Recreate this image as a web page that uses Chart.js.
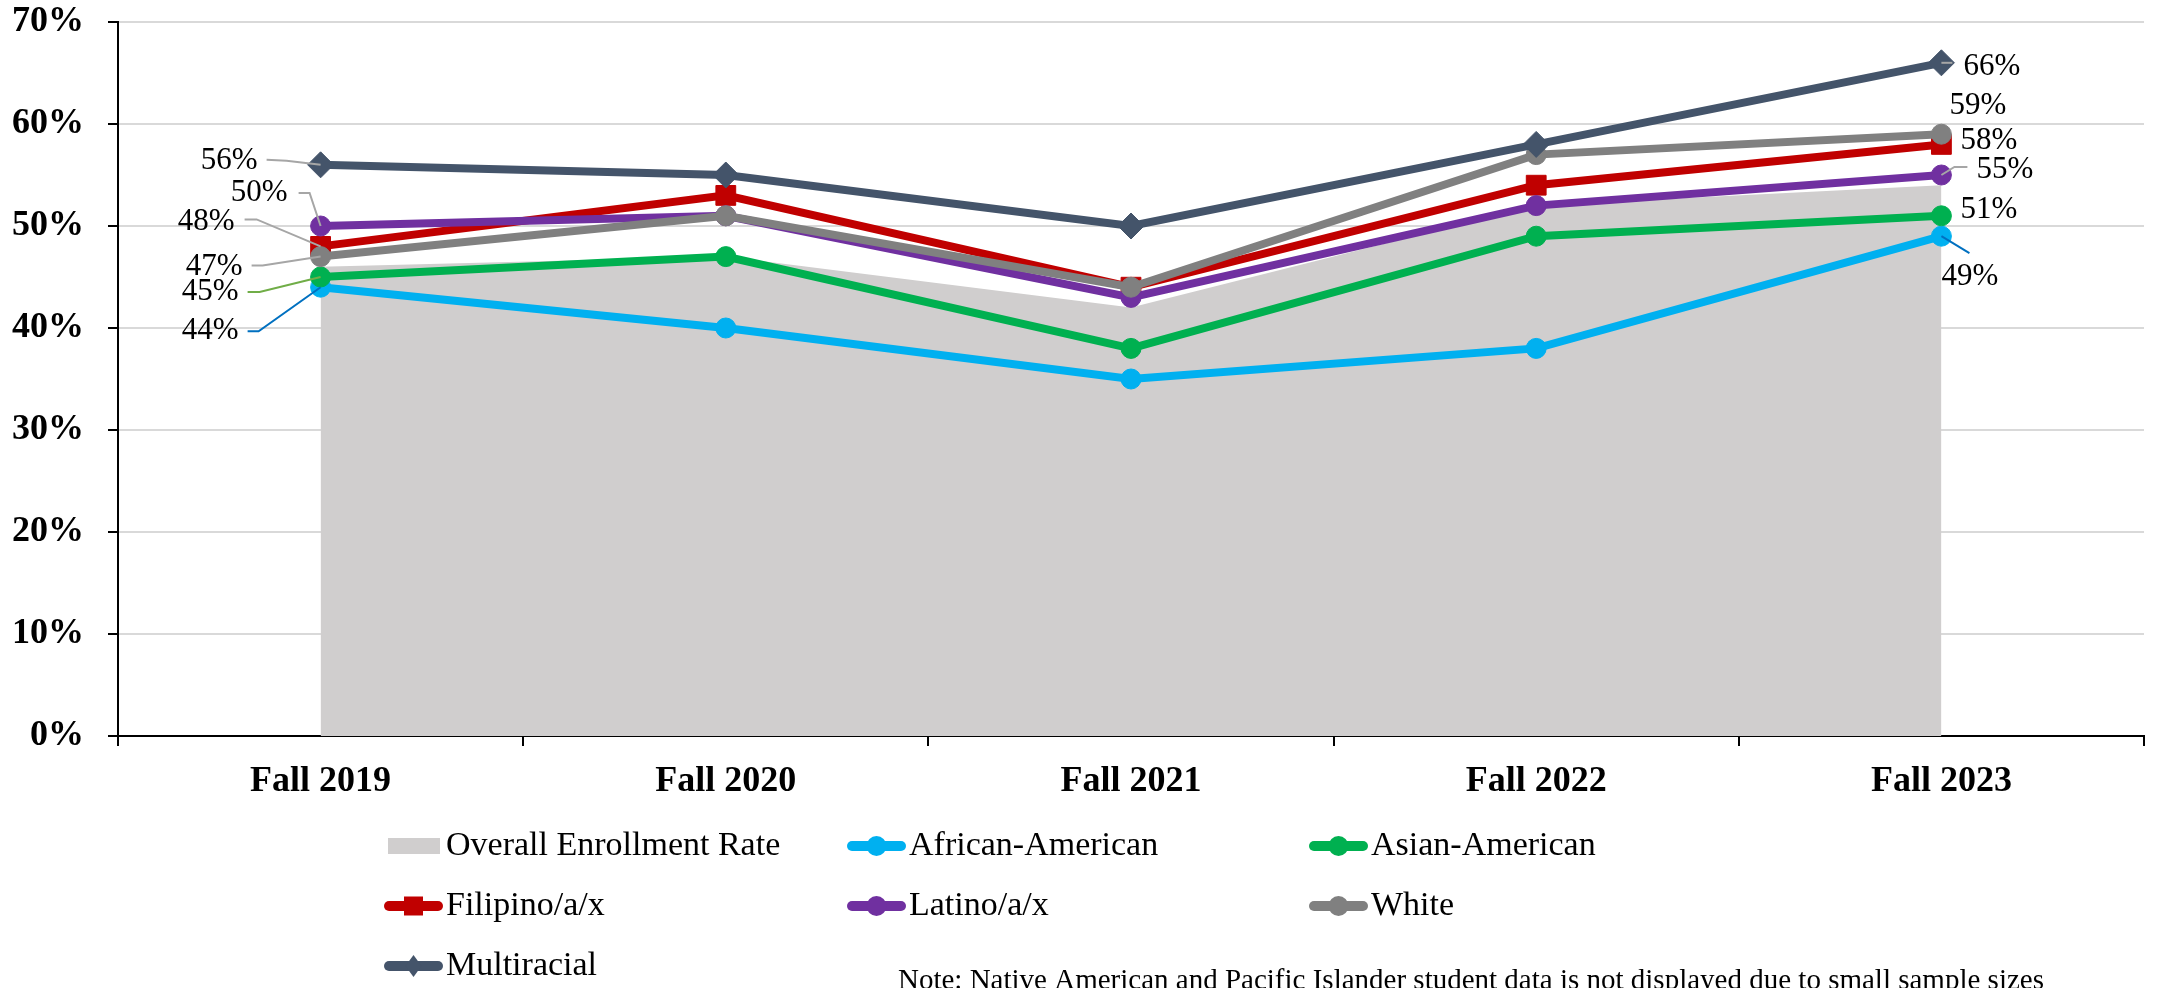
<!DOCTYPE html>
<html lang="en">
<head>
<meta charset="UTF-8">
<title>Enrollment Rate by Race/Ethnicity</title>
<script src="https://cdn.jsdelivr.net/npm/chart.js"></script>
<style>
  html, body { margin: 0; padding: 0; background: #fff; overflow: hidden; }
  #wrap { width: 2159px; height: 988px; }
</style>
</head>
<body>
<div id="wrap"><canvas id="rateChart" width="2159" height="988"></canvas></div>
<script>
// ---- data ----
const years = ['Fall 2019', 'Fall 2020', 'Fall 2021', 'Fall 2022', 'Fall 2023'];
const overallRate = [46, 47, 42, 52, 54];
const africanAmerican = [44, 40, 35, 38, 49];
const asianAmerican = [45, 47, 38, 49, 51];
const filipino = [48, 53, 44, 54, 58];
const latino = [50, 51, 43, 52, 55];
const white = [47, 51, 44, 57, 59];
const multiracial = [56, 55, 50, 58, 66];
const yTickValues = [0, 10, 20, 30, 40, 50, 60, 70];
const noteText = 'Note: Native American and Pacific Islander student data is not displayed due to small sample sizes';

const serif = "'Liberation Serif', 'Times New Roman', serif";

// where the value labels sit, relative to the first / last point of each line
const grayLeader = '#A6A6A6';
const labelSpots = {
  'African-American': [
    { i: 0, dx: -82, dy: 44, align: 'right', leader: [[-73, 44], [-62, 44], [0, 0]], lineColor: '#0070C0' },
    { i: 4, dx: 0, dy: 41, align: 'left', leader: [[0, 0], [28, 17]], lineColor: '#0070C0' }
  ],
  'Asian-American': [
    { i: 0, dx: -82, dy: 15, align: 'right', leader: [[-73, 15], [-61, 15], [0, 0]], lineColor: '#70AD47' },
    { i: 4, dx: 19, dy: -6, align: 'left' }
  ],
  'Filipino/a/x': [
    { i: 0, dx: -86, dy: -25, align: 'right', leader: [[-76, -27], [-64, -27], [0, 0]], lineColor: grayLeader },
    { i: 4, dx: 19, dy: -4, align: 'left' }
  ],
  'Latino/a/x': [
    { i: 0, dx: -33, dy: -33, align: 'right', leader: [[-22, -33], [-11, -33], [0, 0]], lineColor: grayLeader },
    { i: 4, dx: 35, dy: -5, align: 'left', leader: [[0, 0], [13, -8], [26, -8]], lineColor: grayLeader }
  ],
  'White': [
    { i: 0, dx: -78, dy: 10, align: 'right', leader: [[-69, 9], [-58, 9], [0, 0]], lineColor: grayLeader },
    { i: 4, dx: 8, dy: -28, align: 'left' }
  ],
  'Multiracial': [
    { i: 0, dx: -63, dy: -4, align: 'right', leader: [[-54, -5], [-34, -4], [0, 0]], lineColor: grayLeader },
    { i: 4, dx: 22, dy: 4, align: 'left', leader: [[0, 0], [11, 0]], lineColor: grayLeader }
  ]
};

const dataLabels = {
  id: 'dataLabels',
  afterDatasetsDraw(chart) {
    const ctx = chart.ctx;
    ctx.save();
    ctx.font = '31px ' + serif;
    ctx.textBaseline = 'middle';
    chart.data.datasets.forEach((ds, di) => {
      const spots = labelSpots[ds.label];
      if (!spots) return;
      const pts = chart.getDatasetMeta(di).data;
      spots.forEach(s => {
        const p = pts[s.i];
        if (s.leader) {
          ctx.strokeStyle = s.lineColor;
          ctx.lineWidth = 2;
          ctx.beginPath();
          s.leader.forEach(([lx, ly], k) => {
            if (k) ctx.lineTo(p.x + lx, p.y + ly);
            else ctx.moveTo(p.x + lx, p.y + ly);
          });
          ctx.stroke();
        }
        ctx.fillStyle = '#000';
        ctx.textAlign = s.align;
        ctx.fillText(ds.data[s.i] + '%', p.x + s.dx, p.y + s.dy);
      });
    });
    ctx.restore();
  }
};

// legend in three columns under the axis, plus the note
const legendCols = [384, 847, 1309];
const legendRows = [846, 906, 966];

function legendMarker(ctx, style, x, y) {
  ctx.beginPath();
  if (style === 'rect') {
    ctx.rect(x - 9.5, y - 9.5, 19, 19);
  } else if (style === 'rectRot') {
    ctx.moveTo(x, y - 11);
    ctx.lineTo(x + 8, y);
    ctx.lineTo(x, y + 11);
    ctx.lineTo(x - 8, y);
    ctx.closePath();
  } else {
    ctx.arc(x, y, 10, 0, Math.PI * 2);
  }
  ctx.fill();
}

const bottomLegend = {
  id: 'bottomLegend',
  afterDraw(chart) {
    const ctx = chart.ctx;
    ctx.save();
    chart.data.datasets.forEach((ds, i) => {
      const x0 = legendCols[i % 3];
      const y = legendRows[Math.floor(i / 3)];
      if (ds.fill) {
        ctx.fillStyle = ds.backgroundColor;
        ctx.fillRect(x0 + 4, y - 8, 52, 16);
      } else {
        ctx.strokeStyle = ds.borderColor;
        ctx.lineWidth = 10;
        ctx.lineCap = 'round';
        ctx.beginPath();
        ctx.moveTo(x0 + 5, y);
        ctx.lineTo(x0 + 54, y);
        ctx.stroke();
        ctx.fillStyle = ds.borderColor;
        legendMarker(ctx, ds.pointStyle, x0 + 29.5, y);
      }
      ctx.fillStyle = '#000';
      ctx.font = '34px ' + serif;
      ctx.textAlign = 'left';
      ctx.textBaseline = 'middle';
      ctx.fillText(ds.label, x0 + 62, y);
    });
    ctx.font = '29px ' + serif;
    ctx.textBaseline = 'alphabetic';
    ctx.fillText(noteText, 898, 989);
    ctx.restore();
  }
};

function lineSet(label, data, color, style, radius, order) {
  return {
    label: label,
    data: data,
    borderColor: color,
    backgroundColor: color,
    pointBackgroundColor: color,
    pointBorderColor: color,
    pointBorderWidth: 1,
    borderWidth: 8,
    pointStyle: style,
    pointRadius: radius,
    fill: false,
    order: order
  };
}

const ctx = document.getElementById('rateChart').getContext('2d');
const rateChart = new Chart(ctx, {
  type: 'line',
  data: {
    labels: years,
    datasets: [
      {
        label: 'Overall Enrollment Rate',
        data: overallRate,
        backgroundColor: '#D0CECE',
        borderWidth: 0,
        pointRadius: 0,
        fill: 'origin',
        order: 7
      },
      lineSet('African-American', africanAmerican, '#00B0F0', 'circle', 10, 6),
      lineSet('Asian-American', asianAmerican, '#00B050', 'circle', 10, 5),
      lineSet('Filipino/a/x', filipino, '#C00000', 'rect', 14, 4),
      lineSet('Latino/a/x', latino, '#7030A0', 'circle', 10, 3),
      lineSet('White', white, '#808080', 'circle', 10, 2),
      lineSet('Multiracial', multiracial, '#44546A', 'rectRot', 13, 1)
    ]
  },
  options: {
    responsive: false,
    animation: false,
    events: [],
    layout: { padding: { top: 0, right: 8, left: 0, bottom: 0 } },
    plugins: {
      legend: { display: false },
      tooltip: { enabled: false }
    },
    scales: {
      x: {
        offset: true,
        grid: { offset: true, drawOnChartArea: false, color: '#000', lineWidth: 2, tickLength: 10 },
        border: { color: '#000', width: 2 },
        ticks: {
          color: '#000',
          padding: 14,
          maxRotation: 0,
          font: { family: serif, size: 36, weight: 'bold' }
        },
        afterFit: s => { s.height = 252; }
      },
      y: {
        min: 0,
        max: 70,
        grid: { color: '#D9D9D9', lineWidth: 2, tickColor: '#000', tickLength: 10 },
        border: { color: '#000', width: 2 },
        ticks: {
          color: '#000',
          padding: 24,
          font: { family: serif, size: 36, weight: 'bold' },
          callback: v => v + '%'
        },
        afterBuildTicks: s => { s.ticks = yTickValues.map(v => ({ value: v })); },
        afterFit: s => {
          s.width = 118;
          s.paddingTop = 22;
          s.paddingBottom = 0;
        }
      }
    }
  },
  plugins: [dataLabels, bottomLegend]
});
</script>
</body>
</html>
